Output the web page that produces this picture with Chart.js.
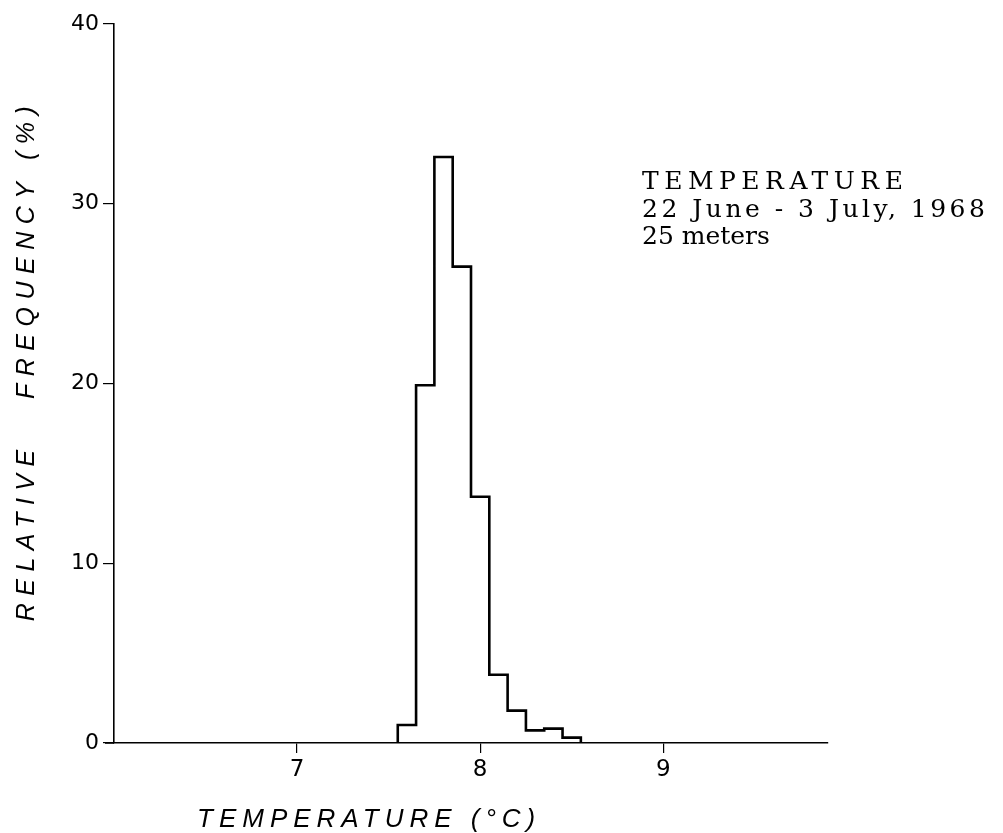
<!DOCTYPE html>
<html>
<head>
<meta charset="utf-8">
<script src="https://cdn.jsdelivr.net/npm/chart.js@4/dist/chart.umd.min.js"></script>
<style>
  html, body { margin: 0; padding: 0; background: #ffffff; }
  #wrap { width: 1003px; height: 833px; }
</style>
</head>
<body>
<div id="wrap"><canvas id="c" width="1003" height="833"></canvas></div>
<script>
// ---- data ----
const binCenters = [7.6, 7.7, 7.8, 7.9, 8.0, 8.1, 8.2, 8.3, 8.4, 8.5];
const relFreq    = [1.0, 19.9, 32.6, 26.5, 13.7, 3.8, 1.8, 0.7, 0.8, 0.3];
const binWidth   = 0.1;
const xTicks     = [7, 8, 9];
const yTicks     = [0, 10, 20, 30, 40];
const xTitle     = 'TEMPERATURE (°C)';
const yTitle     = 'RELATIVE   FREQUENCY (%)';
const noteLines  = ['TEMPERATURE', '22 June - 3 July, 1968', '25 meters'];

// histogram outline built from the bins
const outline = [{ x: binCenters[0] - binWidth / 2, y: 0 }];
binCenters.forEach((c, i) => outline.push({ x: c - binWidth / 2, y: relFreq[i] }));
outline.push({ x: binCenters[binCenters.length - 1] + binWidth / 2, y: 0 });

const textPlugin = {
  id: 'texts',
  afterDraw(chart) {
    const ctx = chart.ctx;
    const a = chart.chartArea;
    ctx.save();
    // small overhang of the x axis to the left of the y axis
    ctx.strokeStyle = '#000';
    ctx.lineWidth = 1.6;
    ctx.beginPath();
    ctx.moveTo(a.left - 9, a.bottom);
    ctx.lineTo(a.left, a.bottom);
    ctx.stroke();

    ctx.fillStyle = '#000';
    // x axis title
    ctx.font = 'italic 26px "Liberation Sans"';
    ctx.letterSpacing = '6px';
    ctx.textAlign = 'left';
    ctx.textBaseline = 'alphabetic';
    ctx.fillText(xTitle, a.left + 83, a.bottom + 84);
    // y axis title
    ctx.save();
    ctx.translate(34, 360);
    ctx.rotate(-Math.PI / 2);
    ctx.textAlign = 'center';
    ctx.font = 'italic 25px "Liberation Sans"';
    ctx.letterSpacing = '7.5px';
    ctx.fillText(yTitle, 0, 0);
    ctx.restore();
    // annotation
    ctx.font = '25px "DejaVu Serif"';
    ctx.textAlign = 'left';
    const spacings = ['5.5px', '3.5px', '0px'];
    noteLines.forEach((t, i) => {
      ctx.letterSpacing = spacings[i];
      ctx.fillText(t, a.left + 528, a.top + 165 + i * 27.5);
    });
    ctx.restore();
  }
};

new Chart(document.getElementById('c'), {
  type: 'line',
  data: {
    datasets: [{
      data: outline,
      stepped: 'before',
      borderColor: '#000',
      borderWidth: 2.6,
      pointRadius: 0,
      fill: false,
      tension: 0
    }]
  },
  options: {
    responsive: false,
    animation: false,
    devicePixelRatio: 1,
    layout: { padding: { left: 0, top: 24, right: 175, bottom: 0 } },
    plugins: { legend: { display: false }, tooltip: { enabled: false } },
    scales: {
      x: {
        type: 'linear',
        min: 6,
        max: 9.9,
        afterBuildTicks: s => { s.ticks = xTicks.map(v => ({ value: v })); },
        afterFit: s => { s.height = 90; },
        grid: { drawOnChartArea: false, drawTicks: true, tickLength: 10, color: '#000', lineWidth: 1.2 },
        border: { display: true, color: '#000', width: 1.6 },
        ticks: { color: '#000', font: { family: 'DejaVu Sans', size: 23 }, padding: 3, maxRotation: 0 }
      },
      y: {
        min: 0,
        max: 40,
        afterBuildTicks: s => { s.ticks = yTicks.map(v => ({ value: v })); },
        afterFit: s => { s.width = 114; },
        grid: { drawOnChartArea: false, drawTicks: true, tickLength: 11, color: '#000', lineWidth: 1.2 },
        border: { display: true, color: '#000', width: 1.6 },
        ticks: { color: '#000', font: { family: 'DejaVu Sans', size: 22 }, padding: 4 }
      }
    }
  },
  plugins: [textPlugin]
});
</script>
</body>
</html>
